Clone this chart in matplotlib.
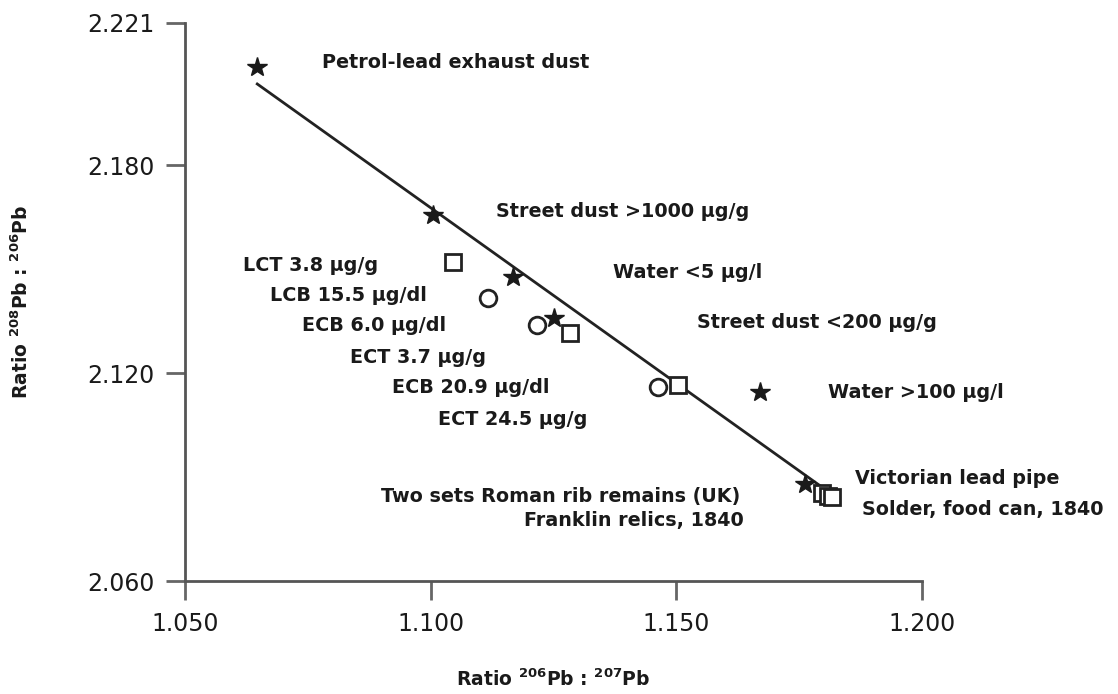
"""Lead isotope ratios: 208Pb/206Pb vs 206Pb/207Pb for environmental and body sources."""
import matplotlib
matplotlib.use("Agg")
import matplotlib.pyplot as plt

plt.rcParams["font.family"] = ["DejaVu Sans"]
plt.rcParams["mathtext.default"] = "regular"

# data
star_x = [1.0647, 1.1005, 1.1168, 1.1251, 1.1670, 1.1762]
star_y = [2.2083, 2.1656, 2.1477, 2.1359, 2.1145, 2.0880]
square_x = [1.1045, 1.1284, 1.1503, 1.1797, 1.1808, 1.1817]
square_y = [2.1520, 2.1316, 2.1166, 2.0854, 2.0846, 2.0842]
circle_x = [1.1117, 1.1216, 1.1463]
circle_y = [2.1417, 2.1339, 2.1160]
fit_x = [1.0647, 1.1825]
fit_y = [2.2034, 2.0842]

xticks = [1.050, 1.100, 1.150, 1.200]
yticks = [2.060, 2.120, 2.180, 2.221]

labels = [
    ("Petrol-lead exhaust dust", 1.0779, 2.2095, "left"),
    ("Street dust >1000 μg/g", 1.1133, 2.1665, "left"),
    ("LCT 3.8 μg/g", 1.0618, 2.1509, "left"),
    ("LCB 15.5 μg/dl", 1.0673, 2.1425, "left"),
    ("ECB 6.0 μg/dl", 1.0738, 2.1336, "left"),
    ("ECT 3.7 μg/g", 1.0836, 2.1246, "left"),
    ("ECB 20.9 μg/dl", 1.0921, 2.1157, "left"),
    ("ECT 24.5 μg/g", 1.1015, 2.1065, "left"),
    ("Water <5 μg/l", 1.1371, 2.1489, "left"),
    ("Street dust <200 μg/g", 1.1542, 2.1347, "left"),
    ("Water >100 μg/l", 1.1809, 2.1143, "left"),
    ("Victorian lead pipe", 1.1864, 2.0897, "left"),
    ("Solder, food can, 1840", 1.1878, 2.0805, "left"),
    ("Two sets Roman rib remains (UK)", 1.1630, 2.0845, "right"),
    ("Franklin relics, 1840", 1.1638, 2.0776, "right"),
]

fig = plt.figure(figsize=(11.18, 6.94), dpi=100)
ax = fig.add_axes([0.1655, 0.1628, 0.8247 - 0.1655, 0.9669 - 0.1628])

ax.plot(fit_x, fit_y, color="#222222", lw=2, zorder=2)
ax.plot(star_x, star_y, ls="none", marker="*", ms=15, color="#1a1a1a", zorder=3)
ax.plot(square_x, square_y, ls="none", marker="s", ms=11, mfc="white",
        mec="#222222", mew=2, zorder=3)
ax.plot(circle_x, circle_y, ls="none", marker="o", ms=12, mfc="white",
        mec="#222222", mew=2, zorder=3)

for text, x, y, ha in labels:
    ax.text(x, y, text, ha=ha, va="center", fontsize=13.8, fontweight="bold",
            color="#1a1a1a")

ax.set_xlim(1.050, 1.200)
ax.set_ylim(2.060, 2.221)
ax.set_xticks(xticks)
ax.set_xticklabels([f"{v:.3f}" for v in xticks])
ax.set_yticks(yticks)
ax.set_yticklabels([f"{v:.3f}" for v in yticks])
ax.tick_params(length=14, width=2, color="#666666", labelsize=17,
               labelcolor="#1a1a1a", pad=8)

for side in ("top", "right"):
    ax.spines[side].set_visible(False)
for side in ("left", "bottom"):
    ax.spines[side].set_color("#555555")
    ax.spines[side].set_linewidth(2)

ax.set_xlabel("Ratio $^{206}$Pb : $^{207}$Pb", fontsize=13.5, fontweight="bold",
              color="#1a1a1a", labelpad=24)
ax.set_ylabel("Ratio $^{208}$Pb : $^{206}$Pb", fontsize=13.5, fontweight="bold",
              color="#1a1a1a", labelpad=40)

fig.savefig("out.png", dpi=100)
